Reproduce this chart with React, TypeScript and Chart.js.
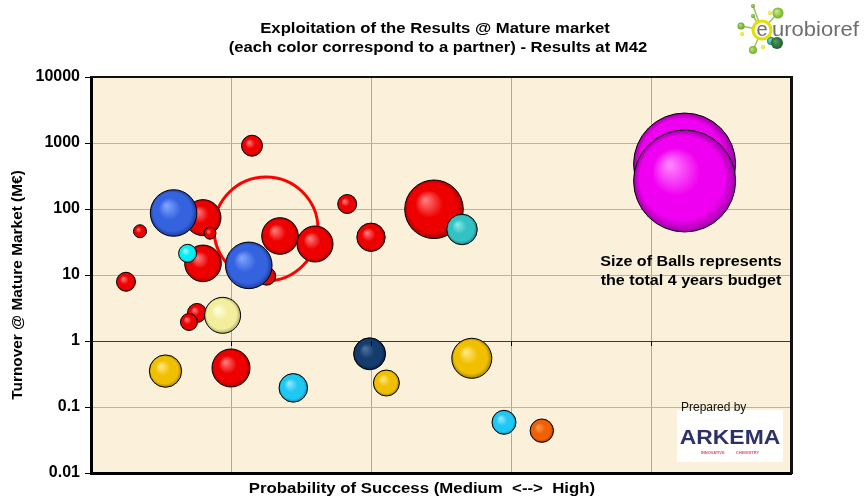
import React, { useEffect, useRef } from "react";
import { Chart, registerables } from "chart.js";

Chart.register(...registerables);

const FONT = '"Liberation Sans", Arial, Helvetica, sans-serif';

// ---- texts ----
const titleLines = [
  "Exploitation of the Results @ Mature market",
  "(each color correspond to a partner) - Results at M42",
];
const xAxisTitle = "Probability of Success (Medium  <-->  High)";
const yAxisTitle = "Turnover @ Mature Market (M€)";
const noteLines = ["Size of Balls represents", "the total 4 years budget"];

// ---- axes ----
const yTickValues = [0.01, 0.1, 1, 10, 100, 1000, 10000];
const yTickLabels = ["0.01", "0.1", "1", "10", "100", "1000", "10000"];
const xMin = 0;
const xMax = 5;
const xAxisCrossTicks = [1, 2, 3, 4];

// ---- balls (one per result; colour = partner) ----
const partnerOfBall = [
  "red", "red", "red", "red", "blue", "red", "cyan", "red", "blue", "red",
  "red", "red", "red", "red", "paleYellow", "gold", "red", "sky", "navy", "gold",
  "gold", "sky", "orange", "red", "red", "red", "teal", "magenta", "magenta",
];
const probability = [
  0.25, 0.35, 0.8, 0.85, 0.59, 0.8, 0.69, 1.255, 1.127, 1.35,
  1.6, 1.15, 0.757, 0.7, 0.94, 0.532, 1.0, 1.445, 1.99, 2.11,
  2.72, 2.95, 3.22, 1.83, 2.0, 2.45, 2.65, 4.24, 4.24,
];
const turnover = [
  7.9, 46, 74, 43, 87, 15, 21.3, 9.6, 14, 39,
  29.5, 910, 2.66, 1.94, 2.45, 0.35, 0.39, 0.195, 0.64, 0.231,
  0.547, 0.0586, 0.0438, 119, 37.3, 99, 49, 480, 266,
];
const budget = [
  9.5, 6.5, 18, 6, 23.3, 18.3, 9, 9, 23.3, 18.3,
  18, 10.5, 9.5, 8.5, 18, 16.2, 19, 14.3, 16, 13,
  20, 12, 11.7, 9.5, 14.2, 29.3, 15.3, 51, 51,
];

// highlighted (ring) result
const ringProbability = [1.25];
const ringTurnover = [49.8];
const ringBudget = [52];

const partnerShades: Record<string, [string, string, string]> = {
  red: ["#FF7A7A", "#EE0000", "#A80000"],
  blue: ["#7FA2FF", "#3563E0", "#1C3C9C"],
  cyan: ["#A0FFFF", "#00EEF4", "#00A8B8"],
  sky: ["#90E8FF", "#1EC8F2", "#0E8CB0"],
  teal: ["#8AE6E6", "#33C2C4", "#1A8688"],
  paleYellow: ["#FFFFE0", "#F2EE9E", "#B4AC5C"],
  gold: ["#FFE680", "#F0C000", "#A88400"],
  navy: ["#4A70A0", "#143C6C", "#0A2244"],
  orange: ["#FF9A50", "#F06000", "#A83C00"],
  magenta: ["#FF80FF", "#F000F0", "#A000A8"],
};

function ballFill(ctx: any) {
  const i = ctx.dataIndex;
  const shades = partnerShades[partnerOfBall[i]] || partnerShades.red;
  const chart = ctx.chart;
  if (ctx.type !== "data" || !chart.chartArea || !chart.scales.x) return shades[1];
  const cx = chart.scales.x.getPixelForValue(probability[i]);
  const cy = chart.scales.y.getPixelForValue(turnover[i]);
  const r = budget[i];
  const g = chart.ctx.createRadialGradient(cx - r * 0.3, cy - r * 0.32, r * 0.04, cx, cy, r);
  g.addColorStop(0, shades[0]);
  g.addColorStop(0.45, shades[1]);
  g.addColorStop(0.82, shades[1]);
  g.addColorStop(1, shades[2]);
  return g;
}

function stretchText(ctx: CanvasRenderingContext2D, text: string, x: number, y: number, sx: number) {
  ctx.save();
  ctx.translate(x, y);
  ctx.scale(sx, 1);
  ctx.fillText(text, 0, 0);
  ctx.restore();
}

const decorPlugin = {
  id: "decor",
  beforeDraw(chart: any) {
    const { ctx, chartArea: a } = chart;
    ctx.save();
    ctx.fillStyle = "#FFFFFF";
    ctx.fillRect(0, 0, chart.width, chart.height);
    ctx.fillStyle = "#FBF0D9";
    ctx.fillRect(a.left, a.top, a.right - a.left, a.bottom - a.top);
    ctx.restore();
  },
  afterDraw(chart: any) {
    const { ctx, chartArea: a } = chart;
    const xs = chart.scales.x;
    const ys = chart.scales.y;
    ctx.save();
    // x-axis tick marks on the "1" crossing line
    const y1 = ys.getPixelForValue(1);
    ctx.strokeStyle = "#000";
    ctx.lineWidth = 1;
    for (const v of xAxisCrossTicks) {
      const px = Math.round(xs.getPixelForValue(v)) + 0.5;
      ctx.beginPath();
      ctx.moveTo(px, y1);
      ctx.lineTo(px, y1 + 5);
      ctx.stroke();
    }
    // top & right frame
    ctx.lineWidth = 2;
    ctx.strokeStyle = "#111";
    ctx.beginPath();
    ctx.moveTo(a.left, a.top);
    ctx.lineTo(a.right, a.top);
    ctx.stroke();
    ctx.lineWidth = 3;
    ctx.beginPath();
    ctx.moveTo(a.right + 0.5, a.top - 1);
    ctx.lineTo(a.right + 0.5, a.bottom + 1);
    ctx.stroke();

    // titles
    ctx.fillStyle = "#000";
    ctx.textAlign = "center";
    ctx.textBaseline = "middle";
    ctx.font = `bold 14px ${FONT}`;
    stretchText(ctx, titleLines[0], 435, 29, 1.19);
    stretchText(ctx, titleLines[1], 438, 48, 1.19);
    stretchText(ctx, xAxisTitle, 422, 489, 1.2);
    ctx.save();
    ctx.translate(18, 285);
    ctx.rotate(-Math.PI / 2);
    ctx.scale(1.1, 1);
    ctx.fillText(yAxisTitle, 0, 0);
    ctx.restore();

    // note
    ctx.font = `bold 14px ${FONT}`;
    stretchText(ctx, noteLines[0], 691, 262, 1.15);
    stretchText(ctx, noteLines[1], 691, 281, 1.15);

    // Arkema block
    ctx.fillStyle = "#FFFFFF";
    ctx.fillRect(677, 410, 106, 52);
    ctx.fillStyle = "#111";
    ctx.font = `12px ${FONT}`;
    ctx.textAlign = "left";
    ctx.fillText("Prepared by", 681, 408);
    ctx.fillStyle = "#2D3168";
    ctx.font = `bold 21px ${FONT}`;
    ctx.textAlign = "center";
    stretchText(ctx, "ARKEMA", 730, 438, 1.09);
    ctx.fillStyle = "#E0506A";
    ctx.font = `bold 4px ${FONT}`;
    ctx.fillText("INNOVATIVE          CHEMISTRY", 730, 453);

    // eurobioref logo
    ctx.strokeStyle = "#9CC45A";
    ctx.lineWidth = 1.5;
    const hub = [762, 30];
    const nodes = [[741, 26], [753, 6], [753, 16], [778, 13], [777, 42], [753, 50]];
    for (const n of nodes) {
      ctx.beginPath();
      ctx.moveTo(hub[0], hub[1]);
      ctx.lineTo(n[0], n[1]);
      ctx.stroke();
    }
    const dot = (x: number, y: number, r: number, c1: string, c2: string) => {
      const g = ctx.createRadialGradient(x - r * 0.3, y - r * 0.3, r * 0.1, x, y, r);
      g.addColorStop(0, c1);
      g.addColorStop(1, c2);
      ctx.fillStyle = g;
      ctx.beginPath();
      ctx.arc(x, y, r, 0, Math.PI * 2);
      ctx.fill();
    };
    dot(778, 13, 5.5, "#C8F07A", "#6FAE2A");
    dot(741, 26, 3.5, "#B8E070", "#5E9E28");
    dot(753, 6, 2, "#A8D870", "#5E9E28");
    dot(753, 16, 2, "#A8D870", "#5E9E28");
    dot(753, 50, 4, "#B8E070", "#6FAE2A");
    dot(771, 41, 4, "#6FD8C8", "#1E8C7A");
    dot(777, 43, 6, "#4E9A5A", "#1E5E30");
    dot(770, 13, 2, "#FFF27A", "#E6D800");
    dot(742, 34, 2, "#FFF27A", "#E6D800");
    dot(763, 47, 2, "#FFF27A", "#E6D800");
    ctx.strokeStyle = "#E2E000";
    ctx.lineWidth = 3;
    ctx.fillStyle = "#FFFFFF";
    ctx.beginPath();
    ctx.arc(762, 30, 9, 0, Math.PI * 2);
    ctx.fill();
    ctx.stroke();
    ctx.fillStyle = "#6E6E6E";
    ctx.font = `20px ${FONT}`;
    ctx.textAlign = "center";
    ctx.fillText("e", 762, 30);
    ctx.textAlign = "left";
    stretchText(ctx, "urobioref", 772, 30, 1.1);
    ctx.restore();
  },
};

export default function App() {
  const ref = useRef<HTMLCanvasElement | null>(null);
  useEffect(() => {
    if (!ref.current) return;
    const chart = new Chart(ref.current, {
      type: "bubble",
      data: {
        datasets: [
          {
            label: "results",
            order: 1,
            data: probability.map((x, i) => ({ x, y: turnover[i], r: budget[i] })),
            backgroundColor: ballFill as any,
            borderColor: "#000000",
            borderWidth: 1,
          },
          {
            label: "highlight",
            order: 2,
            data: ringProbability.map((x, i) => ({ x, y: ringTurnover[i], r: ringBudget[i] })),
            backgroundColor: "rgba(0,0,0,0)",
            borderColor: "#FF0000",
            borderWidth: 3,
          },
        ],
      },
      options: {
        responsive: false,
        animation: false,
        devicePixelRatio: 1,
        layout: { autoPadding: false, padding: { top: 77, right: 73, bottom: 25, left: 0 } },
        plugins: { legend: { display: false }, tooltip: { enabled: false }, title: { display: false } },
        events: [],
        scales: {
          x: {
            type: "linear",
            min: xMin,
            max: xMax,
            ticks: { display: false, stepSize: 1 },
            grid: { color: "#ADA9A0", lineWidth: 1, drawTicks: false },
            border: { display: true, color: "#000", width: 3 },
            afterFit: (s: any) => {
              s.height = 0;
            },
          },
          y: {
            type: "logarithmic",
            min: 0.01,
            max: 10000,
            afterBuildTicks: (s: any) => {
              s.ticks = yTickValues.map((v) => ({ value: v }));
            },
            afterFit: (s: any) => {
              s.width = 91;
            },
            ticks: {
              autoSkip: false,
              padding: 5,
              color: "#000",
              font: { family: FONT, size: 16, weight: "bold" },
              callback: (_v: any, i: number) => yTickLabels[i],
            },
            grid: {
              color: (c: any) => (c.tick && c.tick.value === 1 ? "#3A3A3A" : "#B8B4AC"),
              lineWidth: 1,
              tickLength: 6,
              tickColor: "#000",
            },
            border: { display: true, color: "#000", width: 3 },
          },
        },
      },
      plugins: [decorPlugin],
    });
    return () => chart.destroy();
  }, []);
  return (
    <div style={{ position: "absolute", left: 0, top: 0, width: 864, height: 498 }}>
      <canvas ref={ref} width={864} height={498} style={{ display: "block" }} />
    </div>
  );
}
